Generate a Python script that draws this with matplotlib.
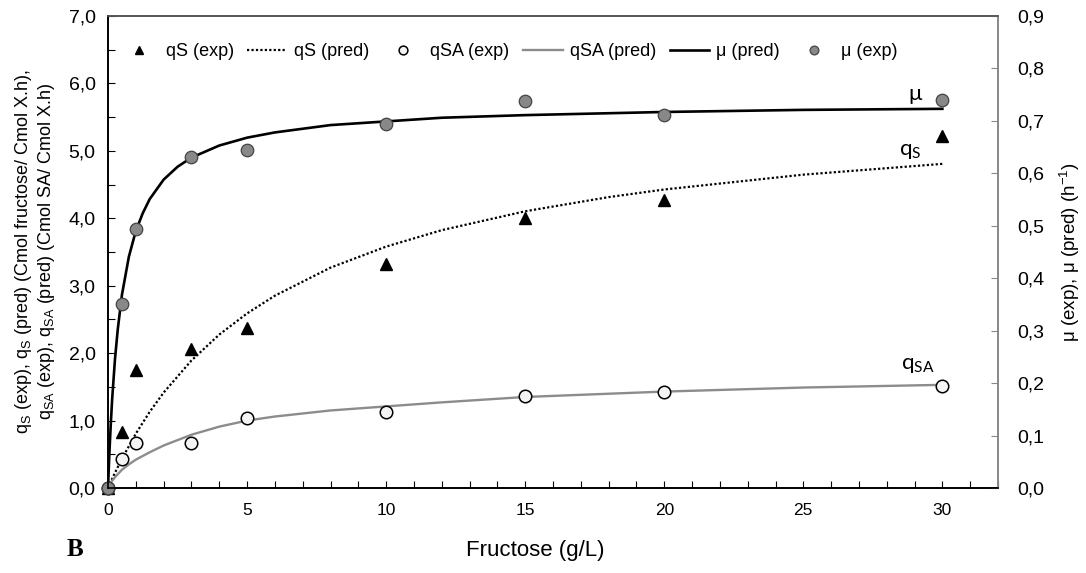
import matplotlib
matplotlib.use("Agg")
import matplotlib.pyplot as plt
from matplotlib.ticker import MultipleLocator, FuncFormatter

plt.rcParams['font.family'] = ['Liberation Sans', 'DejaVu Sans']
plt.rcParams['mathtext.fontset'] = 'custom'
plt.rcParams['mathtext.rm'] = 'Liberation Sans'
plt.rcParams['mathtext.it'] = 'Liberation Sans'

# experimental data
x_exp = [0, 0.5, 1, 3, 5, 10, 15, 20, 30]
qs_exp = [0, 0.83, 1.75, 2.06, 2.37, 3.32, 4.00, 4.27, 5.22]
qsa_exp = [0, 0.43, 0.66, 0.67, 1.04, 1.12, 1.37, 1.43, 1.52]
mu_exp = [0, 0.35, 0.494, 0.632, 0.644, 0.695, 0.737, 0.711, 0.739]

# predicted curves
x_qs_pred = [0, 0.25, 0.5, 1, 1.5, 2, 3, 4, 5, 6, 8, 10, 12, 15, 18, 20, 25, 30]
qs_pred = [0, 0.225, 0.433, 0.806, 1.13, 1.415, 1.891, 2.275, 2.589, 2.852,
           3.268, 3.580, 3.824, 4.104, 4.314, 4.427, 4.647, 4.807]

x_qsa_pred = [0, 0.1, 0.25, 0.5, 0.75, 1, 1.5, 2, 3, 4, 5, 6, 8, 10, 12, 15, 20, 25, 30]
qsa_pred = [0, 0.08, 0.16, 0.27, 0.35, 0.42, 0.53, 0.63, 0.79, 0.91, 1.00,
            1.06, 1.15, 1.21, 1.27, 1.35, 1.43, 1.49, 1.53]

x_mu_pred = [0, 0.05, 0.1, 0.15, 0.25, 0.35, 0.5, 0.75, 1, 1.25, 1.5, 2, 2.5,
             3, 4, 5, 6, 8, 10, 12, 15, 20, 25, 30]
mu_pred = [0, 0.067, 0.122, 0.170, 0.245, 0.302, 0.368, 0.441, 0.49, 0.524,
           0.551, 0.588, 0.6125, 0.63, 0.653, 0.668, 0.678, 0.692, 0.699,
           0.706, 0.711, 0.717, 0.721, 0.723]

fig = plt.figure(figsize=(10.86, 5.73), dpi=100)
ax = fig.add_axes([108/1086, 1-488/573, 890/1086, 472/573])
ax2 = ax.twinx()

comma = FuncFormatter(lambda v, p: f"{v:.1f}".replace('.', ','))

ax.plot(x_qs_pred, qs_pred, linestyle=(0, (1, 1)), color='black', lw=1.6,
        label='qS (pred)')
ax.plot(x_qsa_pred, qsa_pred, color='#8c8c8c', lw=1.7, label='qSA (pred)')
ax.plot(x_exp, qs_exp, linestyle='none', marker='^', color='black', ms=9,
        label='qS (exp)', clip_on=False)
ax.plot(x_exp, qsa_exp, linestyle='none', marker='o', mfc='#f4f4f4',
        mec='black', mew=1.1, ms=9, label='qSA (exp)', clip_on=False)

ax2.plot(x_mu_pred, mu_pred, color='black', lw=1.9, label='μ (pred)')
ax2.plot(x_exp, mu_exp, linestyle='none', marker='o', mfc='#888888',
         mec='#444444', mew=0.9, ms=9, label='μ (exp)', clip_on=False)

ax.set_xlim(0, 32)
ax.set_ylim(0, 7)
ax2.set_ylim(0, 0.9)

ax.xaxis.set_major_locator(MultipleLocator(5))
ax.xaxis.set_minor_locator(MultipleLocator(1))
ax.yaxis.set_major_locator(MultipleLocator(1))
ax.yaxis.set_minor_locator(MultipleLocator(0.5))
ax.yaxis.set_major_formatter(comma)
ax2.yaxis.set_major_locator(MultipleLocator(0.1))
ax2.yaxis.set_major_formatter(comma)

ax.tick_params(axis='both', which='both', direction='in', length=5, width=0.8)
ax.tick_params(axis='x', which='both', top=False, pad=11, labelsize=12.5)
ax.tick_params(axis='y', which='both', right=False, pad=9, labelsize=14)
ax2.tick_params(axis='y', direction='in', length=5, width=0.8,
                labelsize=14, pad=14, color='#888888', labelcolor='black')

for a in (ax, ax2):
    a.spines['left'].set_color('black')
    a.spines['bottom'].set_color('black')
    a.spines['top'].set_color('#555555')
    a.spines['right'].set_color('#888888')
    for s in a.spines.values():
        s.set_linewidth(1.2)

ax.set_xlabel('Fructose (g/L)', fontsize=16)
ax.xaxis.set_label_coords((535 - 108) / 890, (488 - 540) / 472)
ax.set_ylabel('q$_\\mathregular{S}$ (exp), q$_\\mathregular{S}$ (pred) (Cmol fructose/ Cmol X.h),\n'
              'q$_\\mathregular{SA}$ (exp), q$_\\mathregular{SA}$ (pred) (Cmol SA/ Cmol X.h)',
              fontsize=13, linespacing=1.1)
ax.yaxis.set_label_coords((57 - 108) / 890, 0.5)
ax2.set_ylabel('μ (exp), μ (pred) (h$^{\\mathregular{-1}}$)', fontsize=13.5)
ax2.yaxis.set_label_coords((1058 - 108) / 890, 0.5)

# curve labels
lbl_font = ['Lato', 'DejaVu Sans']
ax.text(29.0, 5.85, 'μ', fontsize=16, family=lbl_font, ha='center', va='center')
ax.text(28.85, 5.0, 'q$_\\mathregular{S}$', fontsize=16, family=lbl_font,
        ha='center', va='center')
ax.text(29.1, 1.82, 'q$_\\mathregular{SA}$', fontsize=16, family=lbl_font,
        ha='center', va='center')

fig.text(75/1086, 1-550/573, 'B', fontsize=18, fontweight='bold',
         family=['Liberation Serif'], ha='center', va='center')

h1, l1 = ax.get_legend_handles_labels()
h2, l2 = ax2.get_legend_handles_labels()
hd = dict(zip(l1 + l2, h1 + h2))
order = ['qS (exp)', 'qS (pred)', 'qSA (exp)', 'qSA (pred)', 'μ (pred)', 'μ (exp)']
ax.legend([hd[k] for k in order], order, loc='center left',
          bbox_to_anchor=(0.0, 0.925), ncol=6, frameon=False, fontsize=13,
          handlelength=2.2, columnspacing=0.75, handletextpad=0.4,
          markerscale=0.7, borderaxespad=0.2)

fig.savefig('out.png', dpi=100)
